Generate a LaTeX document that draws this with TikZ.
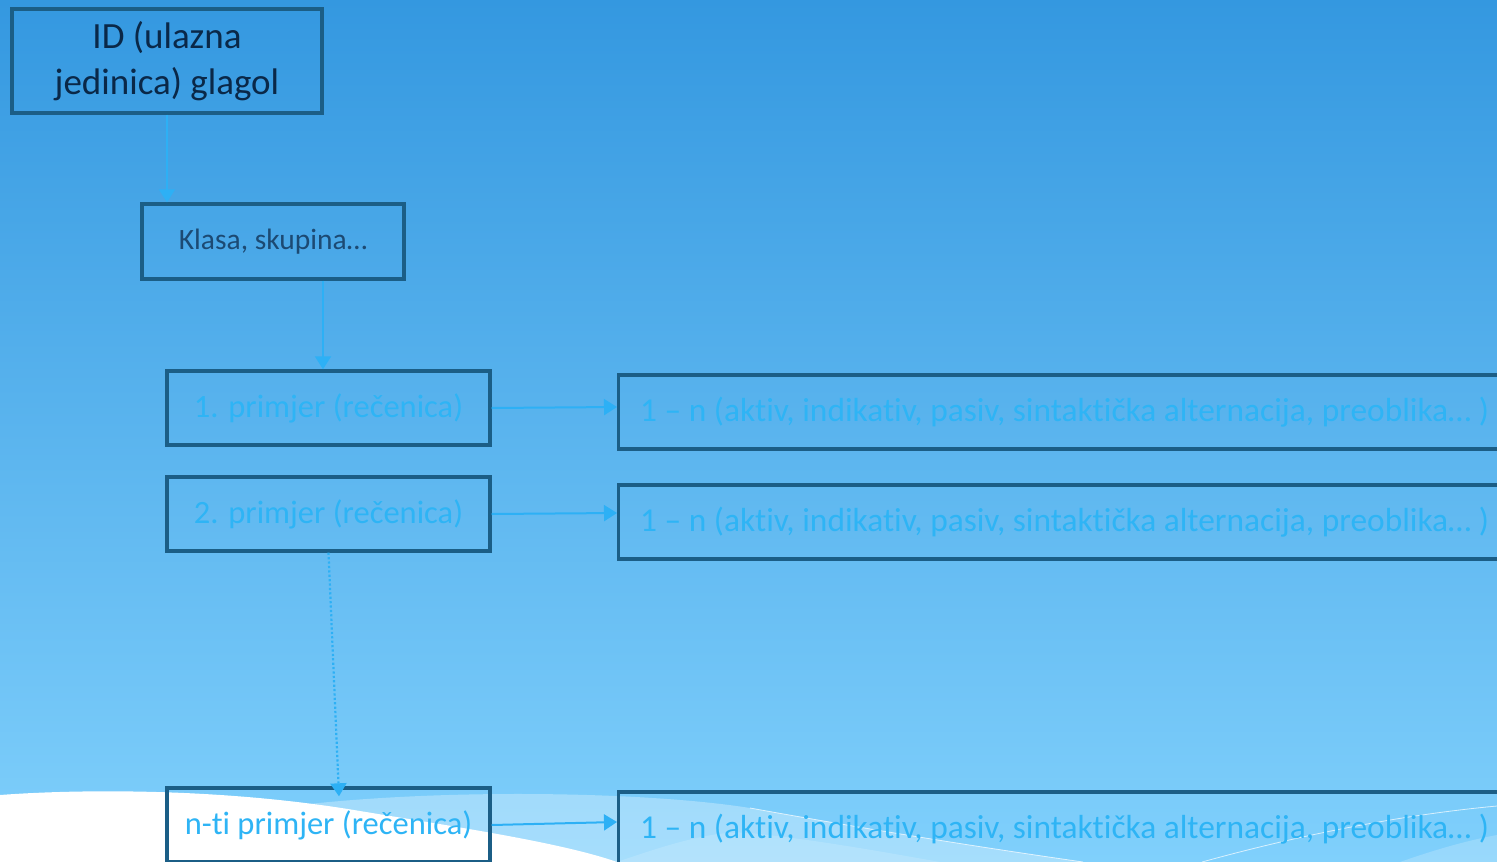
\documentclass[tikz,border=0pt]{standalone}
\usepackage{fontspec}
\setmainfont{Carlito}[Ligatures=NoCommon]
\usetikzlibrary{arrows.meta,calc}
\definecolor{bgtop}{RGB}{52,152,224}
\definecolor{bgbot}{RGB}{128,208,252}
\definecolor{bordc}{RGB}{27,94,134}
\definecolor{navy}{RGB}{10,40,72}
\definecolor{klasac}{RGB}{28,74,115}
\definecolor{lightc}{RGB}{46,180,245}
\definecolor{arrc}{RGB}{45,176,245}
\begin{document}
\begin{tikzpicture}[x=1pt,y=-1pt,
  box/.style={draw=bordc, line width=3.4pt, rectangle, inner sep=0pt},
  lbox/.style={box, minimum width=323pt, minimum height=74pt, text=lightc, font=\fontsize{32.5}{38}\selectfont},
  rbox/.style={box, anchor=west, minimum width=900pt, minimum height=74pt},
  rtext/.style={anchor=west, inner sep=0pt, text=lightc, font=\fontsize{33.4}{40}\selectfont},
  conn/.style={draw=arrc, line width=2pt, -{Triangle[length=13pt,width=16pt]}},
  wave/.style={fill=white},
]
\clip (0,0) rectangle (1497,862);
\shade[top color=bgtop, bottom color=bgbot] (0,0) rectangle (1497,862);
% waves
\fill[white, opacity=0.3] (300,805) .. controls (450,788) and (650,792) .. (750,808) .. controls (900,835) and (1000,850) .. (1083,862) -- (617,862) -- cycle;
\fill[white, opacity=0.15] (617,862) .. controls (680,840) and (720,830) .. (750,833) .. controls (820,840) and (900,855) .. (940,862) -- cycle;
\draw[white, opacity=0.7, line width=0.8pt] (750,808) .. controls (900,835) and (1000,850) .. (1083,862);
\draw[white, opacity=0.7, line width=0.8pt] (1202,862) .. controls (1300,835) and (1400,815) .. (1497,806);
\fill[white, opacity=0.2] (1400,862) .. controls (1440,848) and (1470,840) .. (1497,835) -- (1497,862) -- cycle;
\fill[wave] (0,795) .. controls (80,789) and (220,788) .. (354,810) .. controls (450,826) and (560,842) .. (617,862) -- (0,862) -- cycle;
% nodes
\node[box, minimum width=310pt, minimum height=104pt, align=center, text=navy, font=\fontsize{37}{46}\selectfont] (id) at (167,61) {ID (ulazna\\jedinica) glagol};
\node[box, minimum width=262pt, minimum height=75pt, text=klasac, font=\fontsize{29.5}{34}\selectfont] (klasa) at (273,241.5) {Klasa, skupina…};
\node[lbox] (b1) at (328.5,408) {1. primjer (rečenica)};
\node[lbox] (b2) at (328.5,514) {2. primjer (rečenica)};
\node[lbox] (bn) at (328.5,825) {n-ti primjer (rečenica)};
\node[rbox] (r1) at (617,412) {};
\node[rbox] (r2) at (617,522) {};
\node[rbox] (r3) at (617,829) {};
\node[rtext] (r1t) at ([xshift=23pt]r1.west) {1 – n (aktiv, indikativ, pasiv, sintaktička alternacija, preoblika… )};
\node[rtext] (r2t) at ([xshift=23pt]r2.west) {1 – n (aktiv, indikativ, pasiv, sintaktička alternacija, preoblika… )};
\node[rtext] (r3t) at ([xshift=23pt]r3.west) {1 – n (aktiv, indikativ, pasiv, sintaktička alternacija, preoblika… )};
% connectors
\draw[conn] (id.south) -- (id.south |- klasa.north);
\draw[conn] ([xshift=50pt]klasa.south) -- ([xshift=-5.5pt]b1.north);
\draw[conn] (b1.east) -- ([yshift=5pt]r1.west);
\draw[conn] (b2.east) -- ([yshift=9pt]r2.west);
\draw[conn] (bn.east) -- ([yshift=7pt]r3.west);
\draw[conn, line width=2.2pt, dash pattern=on 2.2pt off 2.2pt] (b2.south) -- ([xshift=10.5pt,yshift=-10pt]bn.north);
\end{tikzpicture}
\end{document}
